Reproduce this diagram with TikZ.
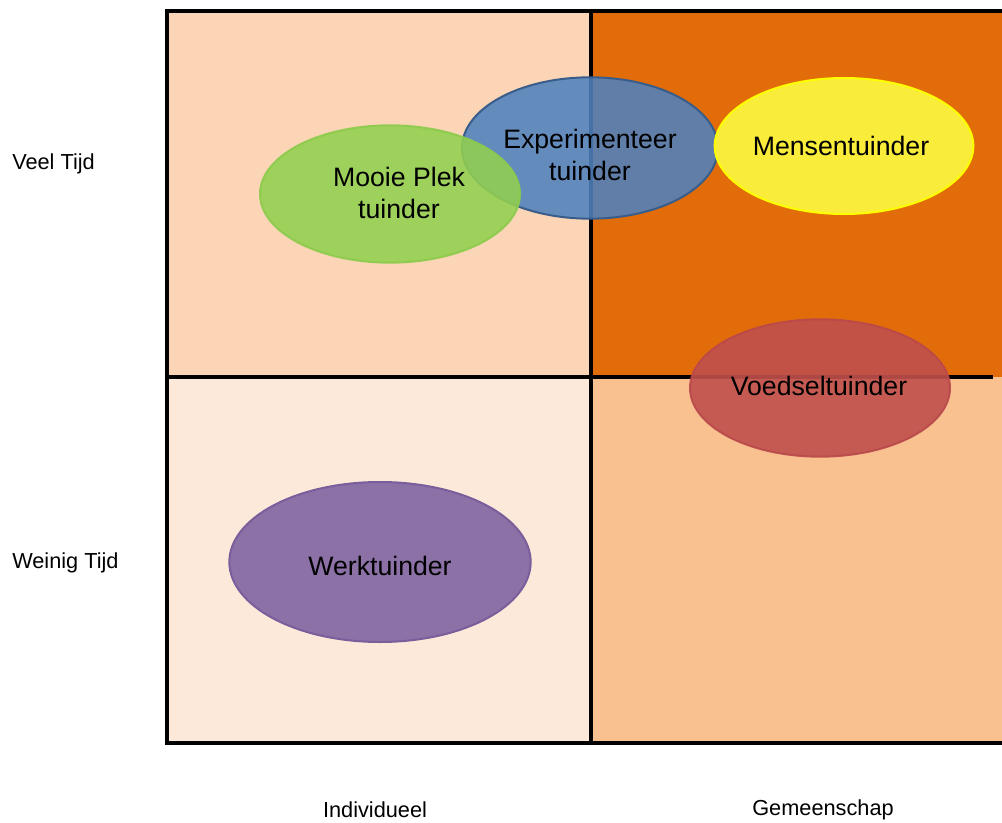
\documentclass[tikz,border=0pt]{standalone}
\usepackage{fontspec}
\setmainfont{Liberation Sans}
\usetikzlibrary{shapes.geometric}
\definecolor{cTL}{HTML}{FBD5B5}
\definecolor{cTR}{HTML}{E36C0A}
\definecolor{cBL}{HTML}{FDE9D9}
\definecolor{cBR}{HTML}{F9C090}
\definecolor{cGreen}{HTML}{92D050}
\definecolor{cGreenE}{HTML}{8CCB4C}
\definecolor{cBlue}{HTML}{4F81BD}
\definecolor{cBlueE}{HTML}{385D8A}
\definecolor{cYel}{HTML}{F9EC3A}
\definecolor{cYelE}{HTML}{FFFF00}
\definecolor{cRed}{HTML}{C0504D}
\definecolor{cRedE}{HTML}{B9484A}
\definecolor{cPur}{HTML}{8064A2}
\definecolor{cPurE}{HTML}{7A5E9C}
\tikzset{
  gridline/.style={line width=2.6pt, black},
  blob/.style={ellipse, inner sep=0pt, line width=1.5pt},
  lbl/.style={font=\fontsize{20}{24.5}\selectfont, align=center, text=black},
  axis/.style={font=\fontsize{16.3}{19}\selectfont, text=black}
}
\begin{document}
\begin{tikzpicture}[x=0.75pt, y=-0.75pt]
\useasboundingbox (0,0) rectangle (1002,823);
% cells
\fill[cTL] (167,11) rectangle (591,377);
\fill[cTR] (591,11) rectangle (1002,377);
\fill[cBL] (167,377) rectangle (591,743);
\fill[cBR] (591,377) rectangle (1002,743);
% grid lines
\coordinate (tl) at (167,11);
\coordinate (tr) at (1002,11);
\coordinate (bl) at (167,743);
\coordinate (br) at (1002,743);
\coordinate (vt) at (591,11);
\coordinate (vb) at (591,743);
\coordinate (hl) at (167,377);
\coordinate (hr) at (993,377);
\draw[gridline] (tr) -- (tl) -- (bl) -- (br);
\draw[gridline] (vt) -- (vb);
\draw[gridline] (hl) -- (hr);
% ellipses
\node[blob, fill=cRed, draw=cRedE, fill opacity=0.9, draw opacity=0.9, minimum width=195pt, minimum height=103pt] (voed) at (820,388) {};
\node[blob, fill=cBlue, draw=cBlueE, fill opacity=0.88, minimum width=192pt, minimum height=106pt] (exp) at (590,148) {};
\node[blob, fill=cGreen, draw=cGreenE, fill opacity=0.88, draw opacity=0.9, minimum width=195pt, minimum height=103pt] (mooi) at (390,194) {};
\node[blob, fill=cYel, draw=cYelE, minimum width=194pt, minimum height=102pt] (mens) at (844,146) {};
\node[blob, fill=cPur, draw=cPurE, fill opacity=0.9, minimum width=226pt, minimum height=120pt] (werk) at (380,562) {};
% labels
\node[lbl] (tmooi) at (399,193) {Mooie Plek\\tuinder};
\node[lbl] (texp) at (590,155) {Experimenteer\\tuinder};
\node[lbl] (tmens) at (841,146) {Mensentuinder};
\node[lbl] (tvoed) at (819,386) {Voedseltuinder};
\node[lbl] (twerk) at (380,566) {Werktuinder};
% axis labels
\node[axis, anchor=west, inner sep=0pt] (veel) at (12,164) {Veel Tijd};
\node[axis, anchor=west, inner sep=0pt] (wein) at (12,563) {Weinig Tijd};
\node[axis] (ind) at (375,810) {Individueel};
\node[axis] (gem) at (823,810) {Gemeenschap};
\end{tikzpicture}
\end{document}
